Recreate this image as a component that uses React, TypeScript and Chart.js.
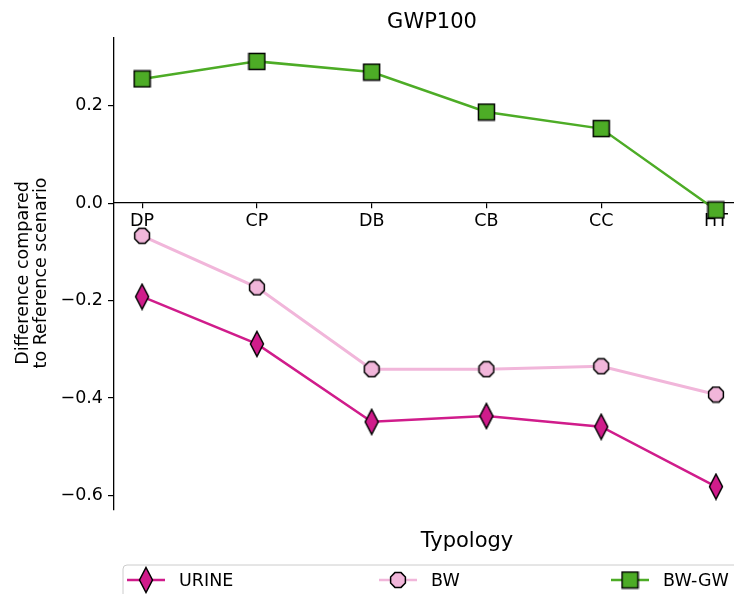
import React, { useEffect, useRef } from "react";
import { Chart, registerables } from "chart.js";

Chart.register(...registerables);

const categories = ["DP", "CP", "DB", "CB", "CC", "HT"];
const urineValues = [-0.192, -0.289, -0.449, -0.437, -0.459, -0.582];
const bwValues = [-0.067, -0.173, -0.341, -0.341, -0.335, -0.393];
const bwgwValues = [0.255, 0.291, 0.269, 0.187, 0.153, -0.014];
const seriesNames = ["URINE", "BW", "BW-GW"];
const seriesColors = ["#d01c8b", "#f1b6da", "#4dac26"];
const yTickValues = [-0.6, -0.4, -0.2, 0.0, 0.2];
const titleText = "GWP100";
const xTitle = "Typology";
const yTitleLines = ["Difference compared", "to Reference scenario"];

const FONT = "'DejaVu Sans', sans-serif";

function makeMarker(kind: string, fill: string): HTMLCanvasElement {
  const c = document.createElement("canvas");
  const ctx = c.getContext("2d")!;
  if (kind === "diamond") {
    c.width = 16;
    c.height = 28;
    ctx.beginPath();
    ctx.moveTo(8, 1.5);
    ctx.lineTo(14.5, 14);
    ctx.lineTo(8, 26.5);
    ctx.lineTo(1.5, 14);
    ctx.closePath();
  } else if (kind === "octagon") {
    c.width = 18;
    c.height = 18;
    ctx.beginPath();
    const r = 8;
    for (let k = 0; k < 8; k++) {
      const a = Math.PI / 8 + (k * Math.PI) / 4;
      const px = 9 + r * Math.cos(a);
      const py = 9 + r * Math.sin(a);
      if (k === 0) ctx.moveTo(px, py);
      else ctx.lineTo(px, py);
    }
    ctx.closePath();
  } else {
    c.width = 19;
    c.height = 19;
    ctx.beginPath();
    ctx.rect(1.5, 1.5, 16, 16);
  }
  ctx.fillStyle = fill;
  ctx.fill();
  ctx.lineWidth = 1.5;
  ctx.strokeStyle = "#000";
  ctx.stroke();
  return c;
}

export default function App() {
  const ref = useRef<HTMLCanvasElement | null>(null);

  useEffect(() => {
    if (!ref.current) return;
    const markers = [
      makeMarker("diamond", seriesColors[0]),
      makeMarker("octagon", seriesColors[1]),
      makeMarker("square", seriesColors[2]),
    ];
    const allValues = [urineValues, bwValues, bwgwValues];

    const textPlugin = {
      id: "texts",
      afterDraw(chart: any) {
        const ctx = chart.ctx as CanvasRenderingContext2D;
        ctx.save();
        ctx.fillStyle = "#000";
        ctx.font = `21px ${FONT}`;
        ctx.textAlign = "center";
        ctx.textBaseline = "alphabetic";
        ctx.fillText(titleText, 432, 28);
        ctx.fillText(xTitle, 467, 547);
        ctx.font = `17.5px ${FONT}`;
        ctx.textBaseline = "middle";
        const yCenters = [23, 41];
        yTitleLines.forEach((line, i) => {
          ctx.save();
          ctx.translate(yCenters[i], 273);
          ctx.rotate(-Math.PI / 2);
          ctx.fillText(line, 0, 0);
          ctx.restore();
        });
        ctx.beginPath();
        const bx = 123, by = 565, bw = 640, bh = 50, rr = 4;
        ctx.moveTo(bx + rr, by);
        ctx.lineTo(bx + bw, by);
        ctx.lineTo(bx + bw, by + bh);
        ctx.lineTo(bx, by + bh);
        ctx.lineTo(bx, by + rr);
        ctx.quadraticCurveTo(bx, by, bx + rr, by);
        ctx.fillStyle = "rgba(255,255,255,0.8)";
        ctx.fill();
        ctx.strokeStyle = "#cccccc";
        ctx.lineWidth = 1;
        ctx.stroke();
        const itemX = [146, 398, 630];
        const ly = 580;
        seriesNames.forEach((name, i) => {
          ctx.beginPath();
          ctx.moveTo(itemX[i] - 19, ly);
          ctx.lineTo(itemX[i] + 19, ly);
          ctx.strokeStyle = seriesColors[i];
          ctx.lineWidth = 2.5;
          ctx.stroke();
          const m = markers[i];
          ctx.drawImage(m, itemX[i] - m.width / 2, ly - m.height / 2);
          ctx.fillStyle = "#000";
          ctx.font = `17.5px ${FONT}`;
          ctx.textAlign = "left";
          ctx.textBaseline = "middle";
          ctx.fillText(name, itemX[i] + 33, ly + 1);
        });
        ctx.restore();
      },
    };

    const chart = new Chart(ref.current, {
      type: "line",
      data: {
        datasets: seriesNames.map((name, i) => ({
          label: name,
          data: allValues[i].map((v, j) => ({ x: j, y: v })),
          borderColor: seriesColors[i],
          backgroundColor: seriesColors[i],
          borderWidth: i === 1 ? 3 : 2.5,
          pointStyle: markers[i] as any,
          pointRadius: 8,
          pointHoverRadius: 8,
          tension: 0,
          clip: false as any,
          order: 3 - i,
        })),
      },
      options: {
        animation: false,
        responsive: false,
        devicePixelRatio: 1,
        layout: {
          autoPadding: false,
          padding: { top: 38, bottom: 84, left: 0, right: 0 },
        },
        plugins: {
          legend: { display: false },
          title: { display: false },
          tooltip: { enabled: false },
        },
        scales: {
          x: {
            type: "linear",
            position: { y: 0 } as any,
            min: -0.245,
            max: 5.157,
            afterBuildTicks: (axis: any) => {
              axis.ticks = categories.map((_, i) => ({ value: i }));
            },
            afterFit: (s: any) => {
              s.paddingLeft = 0;
              s.paddingRight = 0;
            },
            ticks: {
              color: "#000",
              font: { family: FONT, size: 17.5 },
              padding: 3,
              maxRotation: 0,
              autoSkip: false,
              callback: (v: any) => categories[Math.round(Number(v))] ?? "",
            },
            grid: {
              drawOnChartArea: false,
              drawTicks: true,
              tickLength: 5,
              color: "#000",
              lineWidth: 1.2,
            },
            border: { display: true, color: "#000", width: 1.3 },
          },
          y: {
            type: "linear",
            position: "left",
            min: -0.63,
            max: 0.339,
            afterBuildTicks: (axis: any) => {
              axis.ticks = yTickValues.map((v) => ({ value: v }));
            },
            afterFit: (s: any) => {
              s.width = 114;
              s.paddingTop = 0;
              s.paddingBottom = 0;
            },
            ticks: {
              color: "#000",
              font: { family: FONT, size: 17.5 },
              padding: 5,
              callback: (v: any) => {
                const n = Number(v);
                const s = Math.abs(n).toFixed(1);
                return n < -1e-9 ? "\u2212" + s : s;
              },
            },
            grid: {
              drawOnChartArea: false,
              drawTicks: true,
              tickLength: 6,
              color: "#000",
              lineWidth: 1.2,
            },
            border: { display: true, color: "#000", width: 1.3 },
          },
        },
      },
      plugins: [textPlugin],
    });
    return () => chart.destroy();
  }, []);

  return (
    <canvas
      ref={ref}
      width={734}
      height={594}
      style={{ position: "fixed", left: 0, top: 0, display: "block" }}
    />
  );
}
